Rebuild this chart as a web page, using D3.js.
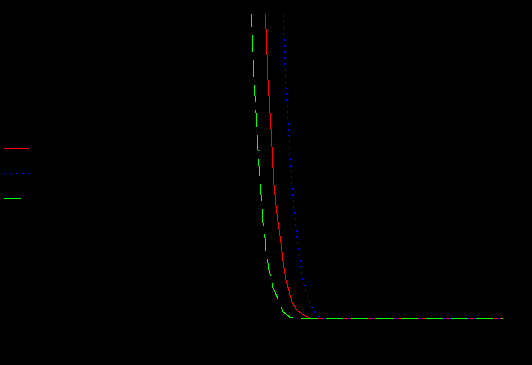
<!DOCTYPE html>
<html>
<head>
<meta charset="utf-8">
<script src="https://cdn.jsdelivr.net/npm/d3@7"></script>
<style>
  body { margin: 0; background: #000; }
  svg { display: block; background: #000; }
</style>
</head>
<body>
<svg id="chart" width="532" height="365"></svg>
<script>
// series (x in steps, y in percent of the axis)
let seriesNames = ["run 1", "run 2", "run 3"];
let seriesColors = ["#ff0000", "#0000ff", "#00ff00"];
let seriesDash = [null, "2,4", "17,8"];

let redX = [42.3, 42.46, 42.66, 42.8, 43.0, 43.26, 43.46, 43.74, 44.0, 44.2, 44.6, 45.0, 45.54, 45.86, 46.2, 46.6, 47.2, 47.86, 48.6, 49.4, 50.4, 51.4, 90];
let redY = [110, 100.3, 93.4, 86.8, 78.5, 71.9, 66.0, 58.7, 49.5, 43.9, 37.3, 31.7, 25.7, 20.8, 16.5, 12.5, 8.9, 5.0, 3.0, 1.8, 0.7, 0, 0];

let blueX = [45.95, 46.06, 46.2, 46.4, 46.6, 46.74, 47.14, 47.34, 47.6, 48.0, 48.34, 48.66, 48.94, 49.3, 49.74, 50.1, 50.46, 50.94, 51.26, 51.74, 52.26, 52.94, 54.0, 90];
let blueY = [110, 99.7, 92.4, 83.5, 75.9, 71.9, 62.0, 55.4, 48.8, 38.9, 34.0, 29.0, 24.1, 20.8, 14.9, 11.6, 9.2, 6.9, 5.3, 3.6, 2.1, 0.5, 0, 0];

let greenX = [39.52, 39.66, 39.86, 40.06, 40.46, 40.74, 41.0, 41.26, 41.46, 41.74, 41.94, 42.4, 42.6, 42.94, 43.2, 43.74, 44.0, 44.94, 45.4, 46.0, 46.7, 47.4, 48.4, 90];
let greenY = [110, 99.3, 94.1, 81.8, 71.9, 63.7, 55.4, 48.8, 42.2, 38.9, 32.3, 26.4, 21.8, 19.1, 15.8, 12.5, 9.9, 6.6, 4.6, 2.0, 1.2, 0.2, 0, 0];

let xTicks = [10, 20, 30, 40, 50, 60, 70, 80, 90];
let yTicks = [0, 20, 40, 60, 80, 100];

let series = [d3.zip(redX, redY), d3.zip(blueX, blueY), d3.zip(greenX, greenY)];

let svg = d3.select("#chart");

let xScale = d3.scaleLinear().domain([0, 90]).range([53, 503]);
let yScale = d3.scaleLinear().domain([0, 100]).range([318, 15]);

// axes are black on black in the original, no visible labels
svg.append("g")
    .attr("transform", "translate(0,318)")
    .call(d3.axisBottom(xScale).tickValues(xTicks).tickFormat(""))
    .call(g => g.selectAll("path,line").attr("stroke", "#000"));

svg.append("g")
    .attr("transform", "translate(53,0)")
    .call(d3.axisLeft(yScale).tickValues(yTicks).tickFormat(""))
    .call(g => g.selectAll("path,line").attr("stroke", "#000"));

svg.append("clipPath")
    .attr("id", "plotclip")
    .append("rect")
    .attr("x", 53)
    .attr("y", 14)
    .attr("width", 451)
    .attr("height", 306);

let line = d3.line()
    .x(function(d) { return xScale(d[0]); })
    .y(function(d) { return yScale(d[1]); });

svg.append("g")
    .attr("clip-path", "url(#plotclip)")
    .selectAll("path")
    .data(series)
    .enter().append("path")
    .attr("d", line)
    .attr("fill", "none")
    .attr("stroke", function(d, i) { return seriesColors[i]; })
    .attr("stroke-width", 1)
    .attr("stroke-dasharray", function(d, i) { return seriesDash[i]; })
    .style("shape-rendering", "crispEdges");

// legend on the left
let legend = svg.append("g").attr("class", "legend");

legend.selectAll("line")
    .data(seriesNames)
    .enter().append("line")
    .attr("x1", 4)
    .attr("x2", 29)
    .attr("y1", function(d, i) { return 148.5 + i * 25; })
    .attr("y2", function(d, i) { return 148.5 + i * 25; })
    .attr("stroke", function(d, i) { return seriesColors[i]; })
    .attr("stroke-width", 1)
    .attr("stroke-dasharray", function(d, i) { return seriesDash[i]; });

legend.selectAll("text")
    .data(seriesNames)
    .enter().append("text")
    .attr("x", 34)
    .attr("y", function(d, i) { return 152 + i * 25; })
    .attr("fill", "#000")
    .style("font", "11px 'DejaVu Sans'")
    .text(function(d) { return d; });
</script>
</body>
</html>
